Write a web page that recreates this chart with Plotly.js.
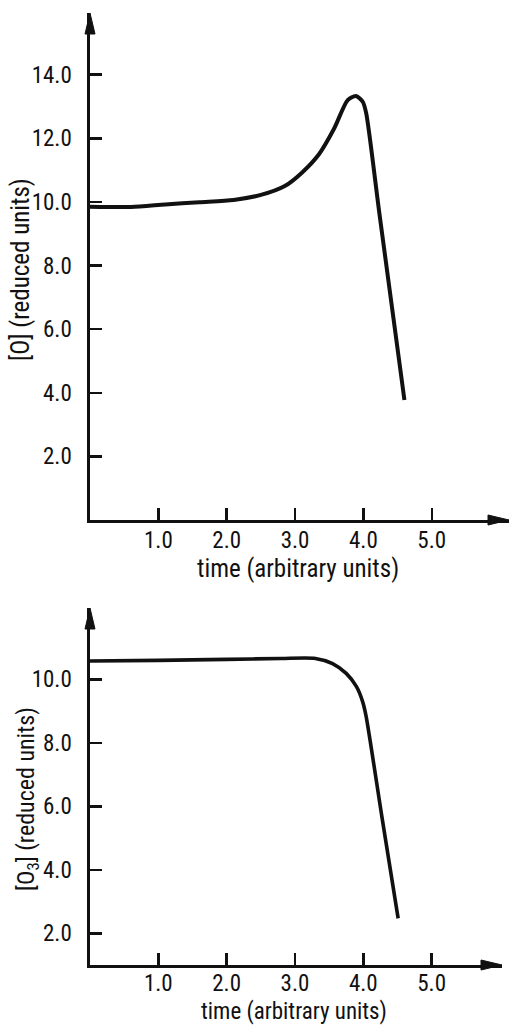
<!DOCTYPE html>
<html>
<head>
<meta charset="utf-8">
<script src="https://cdn.plot.ly/plotly-3.0.1.min.js"></script>
<style>html,body{margin:0;padding:0;background:#fff;}#chart{width:509px;height:1025px;}</style>
</head>
<body>
<div id="chart"></div>
<script>
// Top panel: [O] vs time
const timeO = [0, 0.6, 1.1, 1.6, 2.1, 2.5, 2.85, 3.1, 3.35, 3.57, 3.77, 3.89, 3.99, 4.04, 4.23, 4.6];
const concO = [9.85, 9.84, 9.92, 9.99, 10.06, 10.22, 10.5, 10.92, 11.5, 12.3, 13.2, 13.33, 13.15, 12.8, 9.7, 3.77];
// Bottom panel: [O3] vs time
const timeO3 = [0, 1.0, 2.0, 2.8, 3.3, 3.55, 3.75, 3.9, 3.99, 4.04, 4.27, 4.51];
const concO3 = [10.58, 10.6, 10.63, 10.66, 10.66, 10.5, 10.19, 9.77, 9.3, 8.85, 5.7, 2.47];

const xTicks = [1, 2, 3, 4, 5];
const xTickText = ['1.0', '2.0', '3.0', '4.0', '5.0'];
const yTicksO = [2, 4, 6, 8, 10, 12, 14];
const yTickTextO = ['2.0', '4.0', '6.0', '8.0', '10.0', '12.0', '14.0'];
const yTicksO3 = [2, 4, 6, 8, 10];
const yTickTextO3 = ['2.0', '4.0', '6.0', '8.0', '10.0'];

const FONT = 'Roboto Condensed, Roboto, sans-serif';
const fsTick = 23;
const ink = '#111';

const traces = [
  {x: timeO, y: concO, xaxis: 'x', yaxis: 'y', mode: 'lines',
   line: {color: ink, width: 4, shape: 'spline', smoothing: 0.7}, hoverinfo: 'skip'},
  {x: timeO3, y: concO3, xaxis: 'x2', yaxis: 'y2', mode: 'lines',
   line: {color: ink, width: 3.6, shape: 'spline', smoothing: 0.7}, hoverinfo: 'skip'}
];

const W = 509, H = 1025, L = 90;
const xRangeTop = [0, 6.13], xDomTop = [0, 1];
const xRangeBot = [0, 6.03], xDomBot = [0, (502 - L) / (W - L)];
const yRangeTop = [0, 15.94], yDomTop = [(H - 520) / H, (H - 13) / H];
const yRangeBot = [1, 12.25], yDomBot = [(H - 965) / H, (H - 608) / H];

function xa(anchor, range, domain, standoff) {
  return {range: range, domain: domain, anchor: anchor, showgrid: false, zeroline: false,
    showline: true, linewidth: 2.6, linecolor: ink,
    ticks: 'inside', ticklen: 12, tickwidth: 2.5, tickcolor: ink,
    tickvals: xTicks, ticktext: xTickText, ticklabelstandoff: standoff,
    tickfont: {family: FONT, size: fsTick, color: ink}, fixedrange: true};
}
function ya(anchor, range, domain, tv, tt) {
  return {range: range, domain: domain, anchor: anchor, showgrid: false, zeroline: false,
    showline: true, linewidth: 2.6, linecolor: ink,
    ticks: 'inside', ticklen: 12, tickwidth: 2.5, tickcolor: ink,
    tickvals: tv, ticktext: tt, ticklabelstandoff: 11,
    tickfont: {family: FONT, size: fsTick, color: ink}, fixedrange: true};
}

// axis arrowheads, placed in paper units at the ends of each axis line
function px2paperX(p) { return (p - L) / (W - L); }
function px2paperY(p) { return (H - p) / H; }
const headLen = 21, headHalf = 5;
function arrowUp(xDom, yDom) {
  const hw = headHalf / (W - L), ln = headLen / H, tip = yDom[1], x0 = xDom[0];
  return {type: 'path', xref: 'paper', yref: 'paper',
    path: `M${x0 - hw},${tip - ln} L${x0},${tip} L${x0 + hw},${tip - ln} Z`,
    fillcolor: ink, line: {color: ink, width: 1}};
}
function arrowRight(xDom, yDom) {
  const hw = headHalf / H, ln = headLen / (W - L), tip = xDom[1], y0 = yDom[0];
  return {type: 'path', xref: 'paper', yref: 'paper',
    path: `M${tip - ln},${y0 + hw} L${tip},${y0} L${tip - ln},${y0 - hw} Z`,
    fillcolor: ink, line: {color: ink, width: 1}};
}

const layout = {
  width: W, height: H,
  margin: {l: L, r: 0, t: 0, b: 0},
  paper_bgcolor: '#fff', plot_bgcolor: 'rgba(0,0,0,0)',
  showlegend: false,
  xaxis: xa('y', xRangeTop, xDomTop, -2),
  yaxis: ya('x', yRangeTop, yDomTop, yTicksO, yTickTextO),
  xaxis2: xa('y2', xRangeBot, xDomBot, -4),
  yaxis2: ya('x2', yRangeBot, yDomBot, yTicksO3, yTickTextO3),
  shapes: [
    arrowUp(xDomTop, yDomTop),
    arrowRight(xDomTop, yDomTop),
    arrowUp(xDomBot, yDomBot),
    arrowRight(xDomBot, yDomBot)
  ],
  annotations: [
    {text: '[O] (reduced units)', xref: 'paper', yref: 'paper', x: px2paperX(20), y: px2paperY(270),
     textangle: -90, showarrow: false, xanchor: 'center', yanchor: 'middle',
     font: {family: FONT, size: 25, color: ink}},
    {text: 'time (arbitrary units)', xref: 'paper', yref: 'paper', x: px2paperX(298), y: px2paperY(568),
     showarrow: false, xanchor: 'center', yanchor: 'middle',
     font: {family: FONT, size: 25, color: ink}},
    {text: '[O<sub>3</sub>] (reduced units)', xref: 'paper', yref: 'paper', x: px2paperX(27), y: px2paperY(799),
     textangle: -90, showarrow: false, xanchor: 'center', yanchor: 'middle',
     font: {family: FONT, size: 24, color: ink}},
    {text: 'time (arbitrary units)', xref: 'paper', yref: 'paper', x: px2paperX(294), y: px2paperY(1011),
     showarrow: false, xanchor: 'center', yanchor: 'middle',
     font: {family: FONT, size: 23, color: ink}}
  ]
};

Plotly.newPlot('chart', traces, layout, {staticPlot: true, displayModeBar: false});
</script>
</body>
</html>
